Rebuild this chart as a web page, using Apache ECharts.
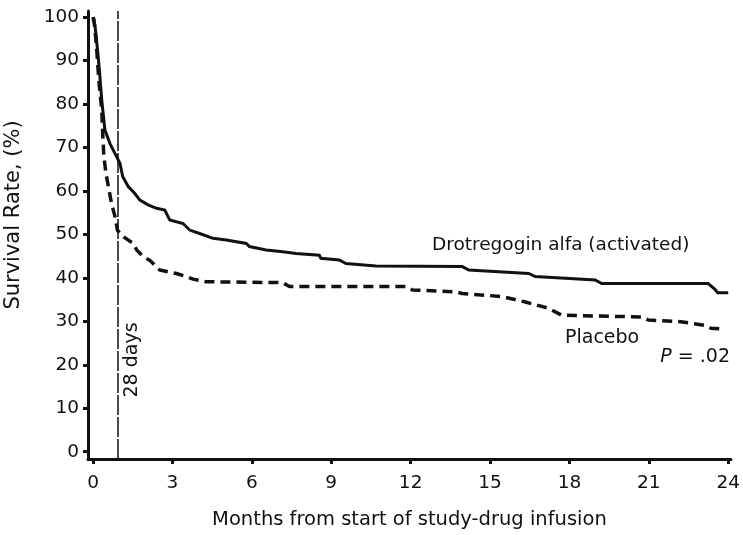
<!DOCTYPE html>
<html>
<head>
<meta charset="utf-8">
<script src="https://cdn.jsdelivr.net/npm/echarts@6/dist/echarts.min.js"></script>
<style>html,body{margin:0;padding:0;background:#fff;}#c{width:743px;height:535px;}</style>
</head>
<body>
<div id="c"></div>
<script>
// Months from start of infusion, survival rate (%)
const drotrecoginMonths = [0,0.04,0.11,0.23,0.33,0.45,0.64,0.89,1.02,1.12,1.33,1.58,1.77,2.08,2.40,2.71,2.78,2.9,3.40,3.65,4.03,4.53,5.04,5.79,5.91,6.54,7.17,7.67,8.55,8.61,9.3,9.56,10.69,13.95,14.2,16.46,16.71,18.97,19.22,23.24,23.49,23.6,24];
const drotrecoginSurvival = [100,99.5,96.2,88.6,80.9,74.0,70.9,67.9,66.3,63.3,61.0,59.4,57.9,56.8,56.0,55.6,55.2,53.3,52.5,51.0,50.2,49.1,48.7,47.9,47.2,46.4,46.0,45.6,45.2,44.5,44.1,43.3,42.7,42.6,41.8,41.0,40.3,39.5,38.7,38.7,37.4,36.6,36.6];
const placeboMonths = [0,0.06,0.14,0.23,0.33,0.37,0.41,0.49,0.58,0.70,0.83,0.92,1.14,1.52,1.65,1.9,2.15,2.52,3.15,3.53,3.78,4.28,7.17,7.42,11.82,12.07,13.7,13.95,15.46,16.3,17.21,17.71,20.73,20.98,22.2,23.1,23.35,23.8];
const placeboSurvival = [100,98,92.4,84.7,78.6,72.5,67.9,64.0,61.0,57.1,54.1,51.0,49.5,47.9,46.4,44.9,44.0,41.8,41.0,40.3,39.7,39.1,38.9,38.0,38.0,37.2,36.8,36.4,35.7,34.5,33.0,31.4,31.0,30.3,29.9,29.1,28.4,28.2];
const xTicks = [0,3,6,9,12,15,18,21,24];
const yTicks = [0,10,20,30,40,50,60,70,80,90,100];
const day28Month = 0.92;

const FONT = 'DejaVu Sans';
const INK = '#111';
const zip = (a, b) => a.map((v, i) => [v, b[i]]);

const chart = echarts.init(document.getElementById('c'), null, {renderer: 'canvas'});
chart.setOption({
  animation: false,
  backgroundColor: '#fff',
  grid: {left: 88, right: 10, top: 11, bottom: 76, containLabel: false},
  xAxis: {
    type: 'value', min: -0.19, max: 24.1,
    name: 'Months from start of study-drug infusion',
    nameLocation: 'middle', nameGap: 51,
    nameTextStyle: {fontFamily: FONT, fontSize: 19.5, color: INK},
    axisLine: {show: true, onZero: false, lineStyle: {color: INK, width: 3}},
    axisTick: {show: true, length: 5, lineStyle: {color: INK, width: 3}, customValues: xTicks},
    axisLabel: {fontFamily: FONT, fontSize: 18.5, color: INK, margin: 15, customValues: xTicks},
    splitLine: {show: false}
  },
  yAxis: {
    type: 'value', min: -1.68, max: 101.4,
    axisLine: {show: true, onZero: false, lineStyle: {color: INK, width: 3}},
    axisTick: {show: true, length: 5, lineStyle: {color: INK, width: 3}, customValues: yTicks},
    axisLabel: {fontFamily: FONT, fontSize: 18.5, color: INK, margin: 9, customValues: yTicks},
    splitLine: {show: false}
  },
  graphic: [
    {type: 'text', rotation: Math.PI / 2, x: 14, y: 215,
     style: {text: 'Survival Rate, (%)', font: '21px "DejaVu Sans"', fill: INK, align: 'center', verticalAlign: 'middle'}},
    {type: 'text', rotation: Math.PI / 2, x: 132, y: 360,
     style: {text: '28 days', font: '19px "DejaVu Sans"', fill: INK, align: 'center', verticalAlign: 'middle'}},
    {type: 'text', x: 432, y: 245,
     style: {text: 'Drotregogin alfa (activated)', font: '18.5px "DejaVu Sans"', fill: INK, align: 'left', verticalAlign: 'middle'}},
    {type: 'text', x: 565, y: 338,
     style: {text: 'Placebo', font: '19px "DejaVu Sans"', fill: INK, align: 'left', verticalAlign: 'middle'}},
    {type: 'text', x: 730, y: 357,
     style: {text: '{i|P} = .02', align: 'right', verticalAlign: 'middle',
       rich: {i: {font: 'italic 19px "DejaVu Sans"', fill: INK}},
       font: '19px "DejaVu Sans"', fill: INK}}
  ],
  series: [
    {
      name: 'Drotrecogin alfa (activated)', type: 'line', showSymbol: false, symbol: 'none',
      data: zip(drotrecoginMonths, drotrecoginSurvival),
      lineStyle: {color: INK, width: 3, join: 'miter'},
      markLine: {
        silent: true, symbol: ['none', 'none'], label: {show: false},
        lineStyle: {color: '#111', width: 1.5, type: [20, 2]},
        data: [{xAxis: day28Month}]
      },
      z: 3
    },
    {
      name: 'Placebo', type: 'line', showSymbol: false, symbol: 'none',
      data: zip(placeboMonths, placeboSurvival),
      lineStyle: {color: INK, width: 3.5, type: [10, 6], cap: 'butt'},
      z: 2
    }
  ]
});
</script>
</body>
</html>
